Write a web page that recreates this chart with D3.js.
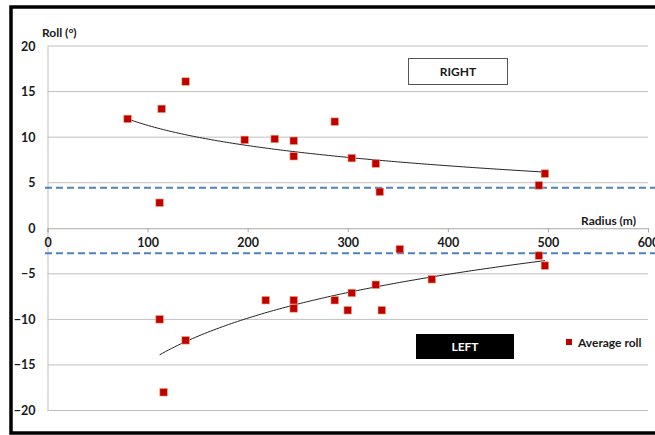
<!DOCTYPE html>
<html>
<head>
<meta charset="utf-8">
<script src="https://cdn.jsdelivr.net/npm/d3@7"></script>
<style>
  body { margin: 0; background: #fff; }
  svg text { font-family: Lato, "Open Sans", sans-serif; font-weight: bold; fill: #1a1a1a; }
</style>
</head>
<body>
<svg width="655" height="435"></svg>
<script>
// Average roll vs radius, right-hand bends (positive) and left-hand bends (negative)
const rightRadius = [80, 114, 138, 112, 197, 227, 246, 246, 287, 304, 328, 332, 497, 491];
const rightRoll   = [12.0, 13.1, 16.1, 2.8, 9.7, 9.8, 9.6, 7.9, 11.7, 7.7, 7.1, 4.0, 6.0, 4.7];
const leftRadius  = [112, 138, 116, 352, 218, 246, 246, 287, 300, 304, 328, 334, 384, 491, 497];
const leftRoll    = [-10.0, -12.3, -18.0, -2.3, -7.9, -7.9, -8.8, -7.9, -9.0, -7.1, -6.2, -9.0, -5.6, -3.0, -4.1];

// logarithmic trend lines y = a + b*ln(r)
const rightTrend = {a: 26.03, b: -3.2, from: 80, to: 497};
const leftTrend  = {a: -46.64, b: 6.94, from: 112, to: 497};

// dashed reference levels
const refLevels = [4.45, -2.75];

const xTicks = [0, 100, 200, 300, 400, 500, 600];
const yTicks = [-20, -15, -10, -5, 0, 5, 10, 15, 20];

const svg = d3.select("svg");
const x = d3.scaleLinear().domain([0, 600]).range([47.5, 648]);
const y = d3.scaleLinear().domain([-20, 20]).range([410.5, 46]);

// outer frame (clipped on the right)
svg.append("rect")
    .attr("x", 11).attr("y", 7)
    .attr("width", 700).attr("height", 426)
    .attr("fill", "none")
    .attr("stroke", "#000")
    .attr("stroke-width", 3.5);

// horizontal gridlines
svg.append("g").selectAll("line")
    .data(yTicks.filter(d => d !== 0))
    .enter().append("line")
    .attr("x1", x(0)).attr("x2", x(600))
    .attr("y1", d => y(d)).attr("y2", d => y(d))
    .attr("stroke", "#c0c0c0");

// y axis
const yAxis = svg.append("g")
    .attr("transform", `translate(${x(0)},0)`)
    .call(d3.axisLeft(y).tickValues(yTicks).tickSize(0).tickPadding(12));
yAxis.select(".domain").attr("stroke", "#c0c0c0");
yAxis.selectAll("text").style("font-size", "12.5px");

// x axis at zero
const xAxis = svg.append("g")
    .attr("transform", `translate(0,${y(0)})`)
    .call(d3.axisBottom(x).tickValues(xTicks).tickSize(4).tickPadding(6));
xAxis.select(".domain").attr("stroke", "#a8a8a8");
xAxis.selectAll(".tick line").attr("stroke", "#a8a8a8");
xAxis.selectAll("text").style("font-size", "12.5px");

// axis titles
svg.append("text")
    .attr("x", 42).attr("y", 37)
    .style("font-size", "12px")
    .text("Roll (°)");
svg.append("text")
    .attr("x", 636).attr("y", 225)
    .attr("text-anchor", "end")
    .style("font-size", "12px")
    .text("Radius (m)");

// dashed reference lines
svg.append("g").selectAll("line")
    .data(refLevels)
    .enter().append("line")
    .attr("x1", 45).attr("x2", 655)
    .attr("y1", d => y(d)).attr("y2", d => y(d))
    .attr("stroke", "#4f81bd")
    .attr("stroke-width", 2)
    .attr("stroke-dasharray", "7,4");

// trend lines
const line = d3.line().x(d => x(d[0])).y(d => y(d[1]));
[rightTrend, leftTrend].forEach(t => {
    const pts = d3.range(t.from, t.to + 1, 3).concat([t.to])
        .map(r => [r, t.a + t.b * Math.log(r)]);
    svg.append("path")
        .attr("d", line(pts))
        .attr("fill", "none")
        .attr("stroke", "#222")
        .attr("stroke-width", 1);
});

// points
const pts = rightRadius.map((r, i) => [r, rightRoll[i]])
    .concat(leftRadius.map((r, i) => [r, leftRoll[i]]));
const ms = 7.5;
svg.append("g").selectAll("rect")
    .data(pts)
    .enter().append("rect")
    .attr("x", d => x(d[0]) - ms / 2)
    .attr("y", d => y(d[1]) - ms / 2)
    .attr("width", ms).attr("height", ms)
    .attr("fill", "#c00000")
    .attr("stroke", "#e8a070")
    .attr("stroke-width", 0.6);

// RIGHT / LEFT labels
svg.append("rect")
    .attr("x", 408.5).attr("y", 58.5).attr("width", 99).attr("height", 26)
    .attr("fill", "#fff").attr("stroke", "#555");
svg.append("text")
    .attr("x", 458).attr("y", 76)
    .attr("text-anchor", "middle")
    .style("font-size", "12px")
    .text("RIGHT");
svg.append("rect")
    .attr("x", 416).attr("y", 334).attr("width", 98).attr("height", 25)
    .attr("fill", "#000");
svg.append("text")
    .attr("x", 465).attr("y", 351)
    .attr("text-anchor", "middle")
    .style("font-size", "12px")
    .style("fill", "#fff")
    .text("LEFT");

// legend
svg.append("rect")
    .attr("x", 566).attr("y", 339).attr("width", 6).attr("height", 6)
    .attr("fill", "#c00000");
svg.append("text")
    .attr("x", 578).attr("y", 347)
    .style("font-size", "12px")
    .text("Average roll");
</script>
</body>
</html>
